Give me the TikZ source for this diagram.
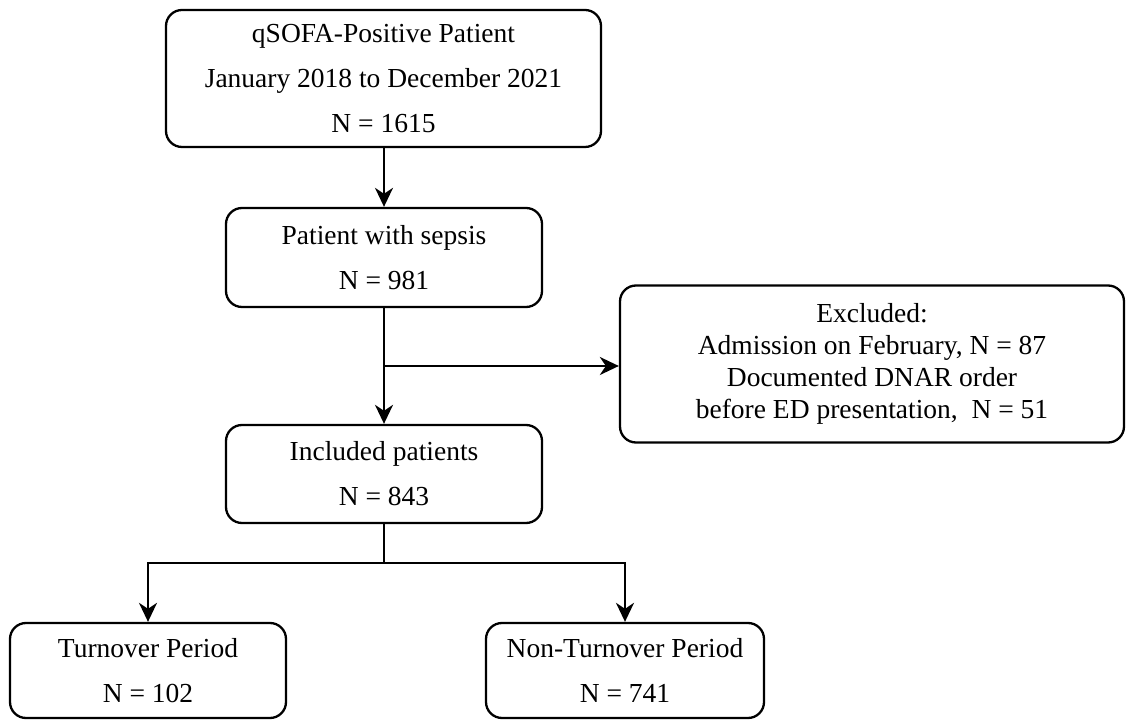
\documentclass[tikz,border=0pt]{standalone}
\usepackage{fontspec}
\setmainfont{Liberation Serif}
\usetikzlibrary{arrows.meta}
\begin{document}
\begin{tikzpicture}[x=1pt,y=1pt,
  box/.style={draw, line width=2.3pt, rounded corners=16pt, inner sep=0pt, align=center,
    font=\fontsize{27.5}{45}\selectfont},
  conn/.style={line width=2.3pt},
  arr/.style={line width=2.3pt, -{Stealth[length=19pt,width=18pt,inset=6pt]}}]
\useasboundingbox (0,0) rectangle (1126,720);
\node[box, minimum width=435pt, minimum height=137pt] (a) at (383.5,641.5)
  {qSOFA-Positive Patient\\January 2018 to December 2021\\N = 1615};
\node[box, minimum width=316pt, minimum height=99pt] (b) at (384,462.5)
  {Patient with sepsis\\N = 981};
\node[box, minimum width=316pt, minimum height=98pt] (c) at (384,246)
  {Included patients\\N = 843};
\node[box, minimum width=504pt, minimum height=157pt, font=\fontsize{27.5}{32}\selectfont] (e) at (872,356)
  {Excluded:\\Admission on February, N = 87\\Documented DNAR order\\before ED presentation,~ N = 51};
\node[box, minimum width=276pt, minimum height=95pt] (l) at (148,49.5)
  {Turnover Period\\N = 102};
\node[box, minimum width=278pt, minimum height=95pt] (r) at (625,49.5)
  {Non-Turnover Period\\N = 741};
\coordinate (j1) at (384,354);
\coordinate (j2) at (384,157);
\draw[arr] (a.south -| b.north) -- (b.north);
\draw[arr] (b.south) -- (c.north);
\draw[arr] (j1) -- (j1 -| e.west);
\draw[conn] (c.south) -- (j2);
\draw[arr] (j2) -| (l.north);
\draw[arr] (j2) -| (r.north);
\end{tikzpicture}
\end{document}
